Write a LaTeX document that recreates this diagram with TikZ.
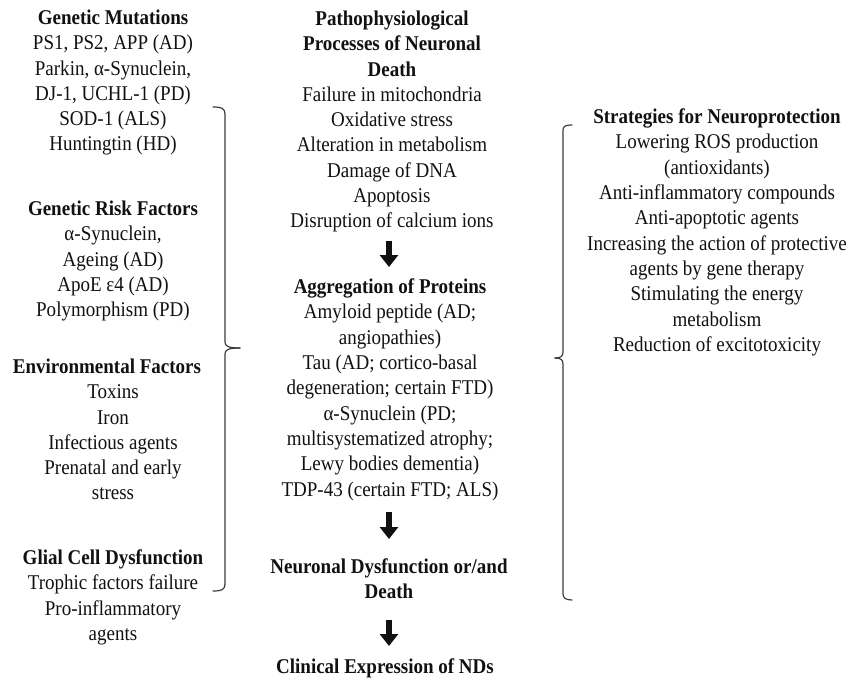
\documentclass[tikz,border=0pt]{standalone}
\usepackage{fontspec}
\setmainfont{Liberation Serif}[FakeStretch=0.905]
\usetikzlibrary{arrows.meta}
\definecolor{ink}{HTML}{111111}
\definecolor{bracegray}{HTML}{3C3C3C}
\begin{document}
\begin{tikzpicture}[x=1pt,y=-1pt,
  block/.style={anchor=north, inner sep=0pt, align=center, text=ink,
                font=\fontsize{21}{25.3}\selectfont},
  bigarrow/.style={line width=6pt, draw=ink,
                   -{Triangle[width=18pt,length=12pt]}},
  bracket/.style={draw=bracegray, line width=1.2pt, line cap=round, line join=round}]
\useasboundingbox[fill=white] (0,0) rectangle (854,679);

% ---- causes (left column)
\node[block] (mut) at (113,9.7) {\textbf{Genetic Mutations}\\
  PS1, PS2, APP (AD)\\ Parkin, α-Synuclein,\\ DJ-1, UCHL-1 (PD)\\
  SOD-1 (ALS)\\ Huntingtin (HD)};
\node[block] (risk) at (113,200.7) {\textbf{Genetic Risk Factors}\\
  α-Synuclein,\\ Ageing (AD)\\ ApoE ε4 (AD)\\ Polymorphism (PD)};
\node[block] (env) at (113,358.7) {\textbf{Environmental Factors}\hspace*{12pt}\\
  Toxins\\ Iron\\ Infectious agents\\ Prenatal and early\\ stress};
\node[block] (glia) at (113,549.7) {\textbf{Glial Cell Dysfunction}\\
  Trophic factors failure\\ Pro-inflammatory\\ agents};

% ---- cascade (centre column)
\node[block] (patho) at (392,10.7) {\textbf{Pathophysiological}\\
  \textbf{Processes of Neuronal}\\ \textbf{Death}\\
  Failure in mitochondria\\ Oxidative stress\\ Alteration in metabolism\\
  Damage of DNA\\ Apoptosis\\ Disruption of calcium ions};
\node[block] (aggr) at (390,278.7) {\textbf{Aggregation of Proteins}\\
  Amyloid peptide (AD;\\ angiopathies)\\ Tau (AD; cortico-basal\\
  degeneration; certain FTD)\\ α-Synuclein (PD;\\
  multisystematized atrophy;\\ Lewy bodies dementia)\\
  TDP-43 (certain FTD; ALS)};
\node[block] (death) at (389,558.7) {\textbf{Neuronal Dysfunction or/and}\\
  \textbf{Death}};
\node[block] (clin) at (385,658.7) {\textbf{Clinical Expression of NDs}};

% ---- therapy (right column)
\node[block] (neuro) at (717,108.7) {\textbf{Strategies for Neuroprotection}\\
  Lowering ROS production\\ (antioxidants)\\ Anti-inflammatory compounds\\
  Anti-apoptotic agents\\ Increasing the action of protective\\
  agents by gene therapy\\ Stimulating the energy\\ metabolism\\
  Reduction of excitotoxicity};

% ---- block arrows of the cascade
\draw[bigarrow] ([xshift=-3pt,yshift=-8pt]patho.south) -- ([xshift=-1pt,yshift=11.7pt]aggr.north);
\draw[bigarrow] ([xshift=-1pt,yshift=-11pt]aggr.south) -- ([yshift=19.7pt]death.north);
\draw[bigarrow] ([yshift=-21pt]death.south) -- ([xshift=4pt,yshift=12.7pt]clin.north);

% ---- braces grouping causes and strategies
\draw[bracket] (213,107) .. controls (221,107) and (225,108) .. (225,114)
  -- (225,342) .. controls (225,346) and (228,348) .. (240,348);
\draw[bracket] (240,348) .. controls (228,348) and (225,350) .. (225,354)
  -- (225,584) .. controls (225,590) and (221,591) .. (213,591);
\draw[bracket] (572,125) .. controls (566,125) and (563,126) .. (563,130)
  -- (563,352) .. controls (563,356) and (561,358) .. (555,358);
\draw[bracket] (555,358) .. controls (561,358) and (563,360) .. (563,364)
  -- (563,594) .. controls (563,598) and (566,600) .. (572,600);
\end{tikzpicture}
\end{document}
